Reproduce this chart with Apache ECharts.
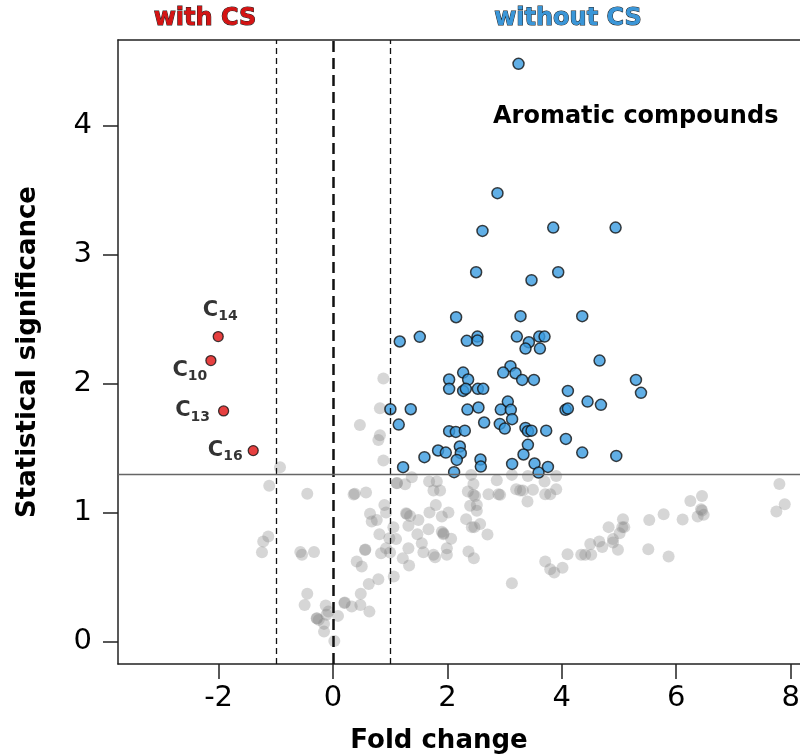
<!DOCTYPE html>
<html><head><meta charset="utf-8">
<script src="https://cdn.jsdelivr.net/npm/echarts@6/dist/echarts.min.js"></script>
<style>html,body{margin:0;padding:0;background:#fff}#c{width:800px;height:755px}</style>
</head><body><div id="c"></div>
<script>
const xTicks = [-2, 0, 2, 4, 6, 8];
const yTicks = [0, 1, 2, 3, 4];
const vLines = [-1, 0, 1];
const hLine = 1.301;

const blueX = [3.243,2.875,2.613,3.85,4.94,2.502,3.47,3.937,2.152,3.278,4.357,1.167,1.517,2.339,2.525,2.525,3.214,3.424,3.605,3.698,3.365,3.617,4.66,3.102,2.975,3.19,3.307,3.512,2.275,2.03,2.362,2.03,2.275,2.322,2.532,2.625,4.106,5.296,5.384,4.45,4.684,4.065,4.106,1.003,1.359,1.149,2.35,2.543,2.642,3.056,2.933,3.108,3.131,2.916,3.003,2.03,2.147,2.304,3.365,3.407,3.47,3.727,4.071,3.407,1.837,1.972,2.217,2.234,2.164,1.598,2.578,2.584,3.33,3.131,3.523,3.757,3.593,2.117,1.225,4.357,4.952];
const blueY = [4.479,3.477,3.184,3.21,3.21,2.864,2.802,2.864,2.515,2.523,2.523,2.327,2.363,2.332,2.365,2.334,2.365,2.321,2.365,2.365,2.272,2.272,2.179,2.136,2.086,2.081,2.029,2.029,2.086,2.032,2.032,1.96,1.944,1.96,1.96,1.96,1.944,2.029,1.929,1.861,1.836,1.797,1.807,1.802,1.802,1.683,1.799,1.815,1.699,1.861,1.799,1.797,1.725,1.688,1.652,1.632,1.626,1.636,1.657,1.632,1.636,1.636,1.572,1.526,1.482,1.466,1.513,1.461,1.409,1.43,1.412,1.357,1.451,1.378,1.381,1.355,1.311,1.314,1.353,1.466,1.44];

const grayX = [-0.927,-1.115,-0.45,-1.132,-1.22,-1.242,-0.572,-0.542,-0.332,-0.45,-0.496,-0.128,-0.082,-0.286,-0.25,-0.157,-0.157,0.023,0.087,-0.114,0.205,0.327,0.478,0.485,0.636,0.625,0.793,1.062,0.414,0.502,0.565,0.38,0.577,0.88,0.793,0.898,0.647,0.677,0.765,0.927,0.811,0.985,1.055,1.102,0.84,0.927,0.997,1.114,1.377,1.26,1.277,1.347,1.493,1.318,1.475,1.552,1.58,1.318,1.22,1.33,1.686,1.669,1.797,1.68,1.814,1.756,1.872,1.902,1.902,1.93,1.756,1.785,1.99,1.99,2.018,2.065,0.88,0.82,0.82,0.47,0.36,0.56,1.12,1.29,1.93,0.2,-0.28,
2.415,2.455,2.357,2.455,2.485,2.397,2.514,2.514,2.327,2.572,2.427,2.472,2.7,2.368,2.462,2.863,2.718,2.893,2.922,3.127,3.407,3.202,3.272,3.32,3.495,3.4,3.698,3.902,3.71,3.797,3.902,3.127,3.71,3.797,3.867,4.012,4.1,4.339,4.409,4.514,4.497,4.654,4.707,4.818,4.894,4.894,4.981,5.01,5.057,5.069,5.092,5.529,5.512,5.78,5.867,6.112,6.247,6.451,6.434,6.375,6.451,6.48,7.804,7.897,7.751];
const grayY = [1.353,1.208,1.146,0.815,0.776,0.694,0.696,0.673,0.696,0.371,0.285,0.28,0.233,0.182,0.169,0.138,0.078,0.006,0.2,0.209,0.303,0.272,0.285,0.371,0.233,0.448,0.484,0.505,0.621,0.582,0.714,1.146,1.156,1.404,1.564,1.06,0.991,0.931,0.944,1.001,0.833,0.802,0.887,0.795,0.686,0.725,0.691,1.229,1.275,1.221,0.996,0.975,0.944,0.898,0.833,0.763,0.694,0.725,0.647,0.59,1.001,0.872,1.06,1.241,1.241,1.171,1.171,0.97,0.853,0.833,0.673,0.655,0.725,0.673,1.001,0.797,2.04,1.81,1.6,1.68,1.14,0.71,1.23,0.99,0.84,0.3,0.18,
1.293,1.223,1.164,1.138,1.13,1.053,1.06,1.014,0.95,0.913,0.888,0.888,0.83,0.699,0.647,1.252,1.143,1.143,1.138,1.293,1.285,1.182,1.171,1.171,1.177,1.086,1.241,1.285,1.143,1.143,1.182,0.453,0.621,0.562,0.536,0.574,0.678,0.673,0.673,0.673,0.758,0.776,0.733,0.888,0.795,0.768,0.712,0.841,0.888,0.95,0.888,0.944,0.717,0.988,0.66,0.947,1.091,1.13,1.027,0.97,1.016,0.983,1.223,1.066,1.009];

const redX = [-2.007, -2.135, -1.913, -1.395];
const redY = [2.365, 2.179, 1.789, 1.481];
const redSub = ['14', '10', '13', '16'];
const redOffsets = [[2, -26], [-21, 10], [-31, 0], [-28, 0]];

const FONT = 'DejaVu Sans';
const X_MIN = -3.759, X_MAX = 8.164, Y_MIN = -0.173, Y_MAX = 4.664;
const chart = echarts.init(document.getElementById('c'), null, {renderer: 'canvas'});

const grayData = grayX.map((x, i) => [x, grayY[i]]);
const blueData = blueX.map((x, i) => [x, blueY[i]]);
const redData = redX.map((x, i) => ({
  value: [x, redY[i]],
  label: {show: true, position: ['50%', '50%'], align: 'center', verticalAlign: 'middle', offset: redOffsets[i],
    formatter: '{c|C}{s|' + redSub[i] + '}'}
}));

const axisLineStyle = {color: '#222', width: 1.5};

chart.setOption({
  animation: false,
  backgroundColor: '#fff',
  grid: {left: 118, top: 40, right: 0, bottom: 91, show: false, containLabel: false, outerBoundsMode: 'none'},
  xAxis: [{
    type: 'value', min: X_MIN, max: X_MAX, position: 'bottom',
    name: 'Fold change', nameLocation: 'middle', nameGap: 64,
    nameTextStyle: {fontFamily: FONT, fontWeight: 'bold', fontSize: 26, color: '#000', padding: [0, 40, 0, 0]},
    axisLine: {show: true, onZero: false, lineStyle: axisLineStyle},
    axisTick: {show: true, inside: false, length: 15, customValues: xTicks, lineStyle: axisLineStyle},
    axisLabel: {customValues: xTicks, margin: 20, fontFamily: FONT, fontSize: 29, color: '#000'},
    splitLine: {show: false}
  }, {
    type: 'value', min: X_MIN, max: X_MAX, position: 'top',
    axisLine: {show: true, onZero: false, lineStyle: axisLineStyle},
    axisTick: {show: false}, axisLabel: {show: false}, splitLine: {show: false}
  }],
  yAxis: {
    type: 'value', min: Y_MIN, max: Y_MAX, position: 'left',
    name: 'Statistical significance', nameLocation: 'middle', nameGap: 77,
    nameTextStyle: {fontFamily: FONT, fontWeight: 'bold', fontSize: 26, color: '#000'},
    axisLine: {show: true, onZero: false, lineStyle: axisLineStyle},
    axisTick: {show: true, inside: false, length: 15, customValues: yTicks, lineStyle: axisLineStyle},
    axisLabel: {customValues: yTicks, margin: 26, fontFamily: FONT, fontSize: 29, color: '#000'},
    splitLine: {show: false}
  },
  series: [
    {type: 'scatter', name: 'n.s.', z: 1, data: grayData, symbolSize: 12,
      itemStyle: {color: 'rgba(128,128,128,0.4)'}, silent: true},
    {type: 'scatter', name: 'lines', z: 2, data: [], silent: true,
      markLine: {silent: true, symbol: ['none', 'none'], label: {show: false},
        data: [
          {xAxis: vLines[0], lineStyle: {color: '#111', width: 1.3, type: [6, 4]}},
          {xAxis: vLines[1], lineStyle: {color: '#111', width: 2.5, type: [11, 6]}},
          {xAxis: vLines[2], lineStyle: {color: '#111', width: 1.3, type: [6, 4]}},
          {yAxis: hLine, lineStyle: {color: '#666', width: 1.3, type: 'solid'}}
        ]}},
    {type: 'scatter', name: 'without CS', z: 3, data: blueData, symbolSize: 11,
      itemStyle: {color: '#3a9be0', borderColor: '#111', borderWidth: 1.5}},
    {type: 'scatter', name: 'with CS', z: 4, data: redData, symbolSize: 10,
      itemStyle: {color: '#e01010', borderColor: '#111', borderWidth: 1.3},
      label: {show: true, color: '#000', textBorderWidth: 0, rich: {
        c: {fontFamily: FONT, fontWeight: 'bold', fontSize: 21, lineHeight: 26, color: '#000', textBorderWidth: 0},
        s: {fontFamily: FONT, fontWeight: 'bold', fontSize: 14, lineHeight: 12, color: '#000', textBorderWidth: 0, verticalAlign: 'bottom'}
      }}}
  ],
  graphic: [
    {type: 'text', x: 205, y: 19, style: {text: 'with CS', font: 'bold 24px "DejaVu Sans"', fill: '#d41414',
      stroke: '#222', lineWidth: 1, align: 'center', verticalAlign: 'middle'}},
    {type: 'text', x: 568, y: 19, style: {text: 'without CS', font: 'bold 24px "DejaVu Sans"', fill: '#3a96d8',
      stroke: '#222', lineWidth: 1, align: 'center', verticalAlign: 'middle'}},
    {type: 'text', x: 493, y: 117, style: {text: 'Aromatic compounds', font: 'bold 24px "DejaVu Sans"', fill: '#000',
      align: 'left', verticalAlign: 'middle'}}
  ]
});
</script></body></html>
